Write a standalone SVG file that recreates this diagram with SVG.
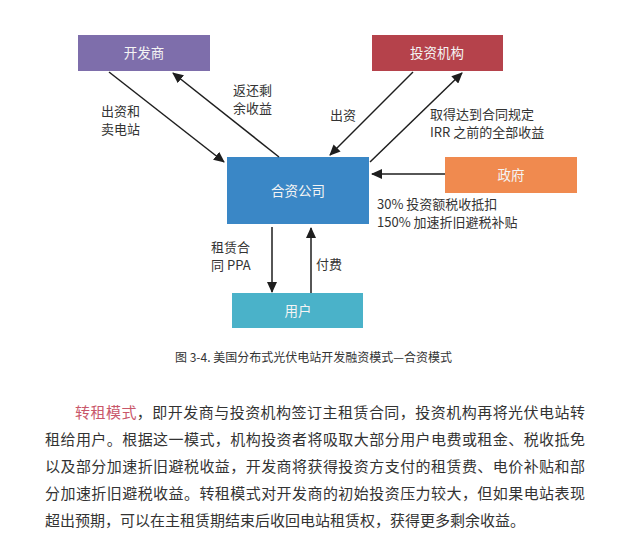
<svg xmlns="http://www.w3.org/2000/svg" width="640" height="553" viewBox="0 0 640 553">
<style>
.box text{font-family:"Noto Sans CJK SC","Liberation Sans",sans-serif;font-size:13.5px;fill:#f4f4f4;text-anchor:middle}
.lbl{font-family:"Noto Sans CJK SC","Liberation Sans",sans-serif;font-size:13px;fill:#333}
.cap{font-family:"Noto Sans CJK SC","Liberation Sans",sans-serif;font-size:12px;fill:#333}
.para{font-family:"Noto Sans CJK SC","Liberation Serif",serif;font-size:15px;fill:#333}
.hl{fill:#c9576a}
#connectors line{stroke:#1e1e1e;stroke-width:1.5;marker-end:url(#ah)}
</style>
<defs>
<marker id="ah" markerWidth="11" markerHeight="10" refX="10" refY="5" orient="auto" markerUnits="userSpaceOnUse">
<path d="M0,0 L11,5 L0,10 Z" fill="#1e1e1e"/>
</marker>
</defs>
<rect width="640" height="553" fill="#ffffff"/>
<g id="node-developer" class="box"><rect x="78" y="35" width="132" height="36" fill="#7e6eab"/><text x="144" y="58">开发商</text></g>
<g id="node-investor" class="box"><rect x="372" y="35" width="131" height="36" fill="#b5424b"/><text x="437" y="58">投资机构</text></g>
<g id="node-jv" class="box"><rect x="227" y="157" width="142" height="67" fill="#3a87c6"/><text x="298" y="196">合资公司</text></g>
<g id="node-gov" class="box"><rect x="445" y="157" width="132" height="36" fill="#f08a4f"/><text x="511" y="180">政府</text></g>
<g id="node-user" class="box"><rect x="232" y="293" width="131" height="35" fill="#4ab2c9"/><text x="298" y="316">用户</text></g>
<g id="connectors">
<line x1="109" y1="72" x2="224" y2="162"/>
<line x1="279" y1="157" x2="173" y2="73"/>
<line x1="413" y1="72" x2="330" y2="155"/>
<line x1="370" y1="162" x2="462" y2="73"/>
<line x1="445" y1="174" x2="372" y2="174"/>
<line x1="272" y1="227" x2="272" y2="292"/>
<line x1="311" y1="293" x2="311" y2="228"/>
</g>
<g id="labels">
<text class="lbl" x="101" y="116">出资和</text>
<text class="lbl" x="101" y="134">卖电站</text>
<text class="lbl" x="233" y="95">返还剩</text>
<text class="lbl" x="233" y="113">余收益</text>
<text class="lbl" x="330" y="120">出资</text>
<text class="lbl" x="430" y="119">取得达到合同规定</text>
<text class="lbl" x="430" y="137">IRR 之前的全部收益</text>
<text class="lbl" x="377" y="209">30% 投资额税收抵扣</text>
<text class="lbl" x="377" y="227">150% 加速折旧避税补贴</text>
<text class="lbl" x="211" y="252">租赁合</text>
<text class="lbl" x="211" y="270">同 PPA</text>
<text class="lbl" x="316" y="269">付费</text>
</g>
<text class="cap" x="175" y="362">图 3-4. 美国分布式光伏电站开发融资模式—合资模式</text>
<g id="paragraph" class="para">
<text x="75" y="418" textLength="510" lengthAdjust="spacing"><tspan class="hl">转租模式</tspan>，即开发商与投资机构签订主租赁合同，投资机构再将光伏电站转</text>
<text x="45" y="445" textLength="540" lengthAdjust="spacing">租给用户。根据这一模式，机构投资者将吸取大部分用户电费或租金、税收抵免</text>
<text x="45" y="472" textLength="540" lengthAdjust="spacing">以及部分加速折旧避税收益，开发商将获得投资方支付的租赁费、电价补贴和部</text>
<text x="45" y="499" textLength="540" lengthAdjust="spacing">分加速折旧避税收益。转租模式对开发商的初始投资压力较大，但如果电站表现</text>
<text x="45" y="526">超出预期，可以在主租赁期结束后收回电站租赁权，获得更多剩余收益。</text>
</g>
</svg>
